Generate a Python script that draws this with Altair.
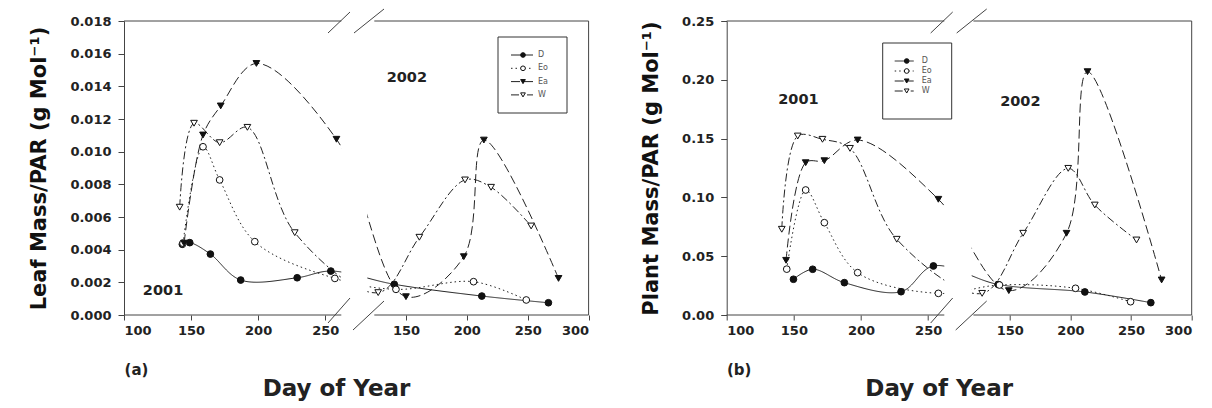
import altair as alt
import pandas as pd

FONT = "DejaVu Sans"
SERIES = ["D", "Eo", "Ea", "W"]

# ---------------- Panel (a): Leaf Mass/PAR ----------------
A01_D_DAY = [143.5, 149.0, 164.4, 187.0, 229.1, 254.2]
A01_D_VAL = [0.00433, 0.00443, 0.00373, 0.00214, 0.00228, 0.00269]
A01_EO_DAY = [144.0, 158.9, 171.3, 197.5, 257.2]
A01_EO_VAL = [0.0044, 0.0103, 0.00827, 0.00449, 0.00224]
A01_EA_DAY = [144.8, 158.9, 172.1, 198.7, 258.4]
A01_EA_VAL = [0.0044, 0.01102, 0.0128, 0.0154, 0.01076]
A01_W_DAY = [141.5, 152.2, 171.3, 192.0, 227.3]
A01_W_VAL = [0.0066, 0.01174, 0.01055, 0.01149, 0.00504]

A02_D_DAY = [140.4, 212.3, 267.0]
A02_D_VAL = [0.00188, 0.00116, 0.00075]
A02_EO_DAY = [141.8, 205.5, 248.8]
A02_EO_VAL = [0.00157, 0.00204, 0.00092]
A02_EA_DAY = [150.0, 197.5, 214.0, 275.3]
A02_EA_VAL = [0.00112, 0.00357, 0.01071, 0.00224]
A02_W_DAY = [127.2, 161.0, 198.5, 219.9, 252.8]
A02_W_VAL = [0.00137, 0.00476, 0.00827, 0.00782, 0.00545]

# ---------------- Panel (b): Plant Mass/PAR ----------------
B01_D_DAY = [149.7, 164.0, 187.6, 229.8, 253.9]
B01_D_VAL = [0.0304, 0.0389, 0.0275, 0.0198, 0.0417]
B01_EO_DAY = [144.7, 158.8, 172.7, 197.5, 257.6]
B01_EO_VAL = [0.039, 0.1063, 0.0785, 0.036, 0.0184]
B01_EA_DAY = [144.2, 158.8, 172.7, 197.5, 257.6]
B01_EA_VAL = [0.0465, 0.1295, 0.1312, 0.1488, 0.0984]
B01_W_DAY = [141.0, 152.9, 171.3, 191.8, 226.6]
B01_W_VAL = [0.0729, 0.1522, 0.1494, 0.1417, 0.0644]

B02_D_DAY = [140.4, 211.9, 266.3]
B02_D_VAL = [0.026, 0.0196, 0.0105]
B02_EO_DAY = [141.5, 204.2, 249.6]
B02_EO_VAL = [0.0255, 0.0227, 0.0113]
B02_EA_DAY = [149.2, 196.8, 214.1, 275.2]
B02_EA_VAL = [0.0207, 0.0695, 0.2069, 0.0298]
B02_W_DAY = [127.2, 161.0, 198.2, 220.1, 254.5]
B02_W_VAL = [0.0184, 0.0695, 0.1247, 0.0935, 0.0638]

YEAR_SHIFT = 365  # 2002 days are placed after 2001 on a broken axis
X_TICKS_2001 = [100, 150, 200, 250]
X_TICKS_2002 = [150, 200, 250, 300]

A_Y_TICKS = [0.000, 0.002, 0.004, 0.006, 0.008, 0.010, 0.012, 0.014, 0.016, 0.018]
B_Y_TICKS = [0.00, 0.05, 0.10, 0.15, 0.20, 0.25]

A_YEAR_LABELS = ["2001", "2002"]
A_YEAR_DAYS = [129.1, 515.7]
A_YEAR_VALS = [0.00148, 0.01454]
B_YEAR_DAYS = [153.4, 523.7]
B_YEAR_VALS = [0.1831, 0.181]

# styles
DASHES = [[1, 0], [1.5, 3], [9, 4], [8, 3, 2, 3]]
SHAPES = ["circle", "circle", "triangle-down", "triangle-down"]
FILLS = ["#111111", "#ffffff", "#111111", "#ffffff"]
INK = "#222222"
FRAME = "#444444"


def table(groups):
    rows = []
    for shift, s, days, vals in groups:
        for d, v in zip(days, vals):
            rows.append({"series": s, "day": d + shift, "value": v})
    return pd.DataFrame(rows)


def panel(df, xdom, xrng, mask, ymax, yticks, yfmt, ytitle, width,
          year_days, year_vals, legend, tag):
    height = 294
    XS = alt.Scale(domain=xdom, range=xrng, nice=False, zero=False)
    YS = alt.Scale(domain=[0, ymax], nice=False, zero=False)
    xvals = X_TICKS_2001 + [t + YEAR_SHIFT for t in X_TICKS_2002]
    xaxis = alt.Axis(values=xvals, domain=False, grid=False, tickSize=5,
                     labelExpr="datum.value > 300 ? datum.value - 365 : datum.value",
                     labelPadding=4, title="")
    yaxis = alt.Axis(values=yticks, format=yfmt, grid=False, tickSize=6,
                     labelPadding=7, title=ytitle, titlePadding=20)

    def X(f):
        return alt.X(f, scale=XS, axis=xaxis)

    def Y(f):
        return alt.Y(f, scale=YS, axis=yaxis)

    base = alt.Chart(df)
    lines = base.mark_line(interpolate="catmull-rom", strokeWidth=1, color=INK).encode(
        x=X("day:Q"), y=Y("value:Q"),
        detail="series:N",
        strokeDash=alt.StrokeDash("series:N", scale=alt.Scale(domain=SERIES, range=DASHES), legend=None),
    )
    mask_df = pd.DataFrame({"x0": [mask[0]], "x1": [mask[1]]})
    mask_layer = alt.Chart(mask_df).mark_rect(color="white").encode(
        x=X("x0:Q"), x2="x1:Q",
        y=alt.value(-1), y2=alt.value(height + 1),
    )
    frame_df = pd.DataFrame({
        "x": [xdom[0], xdom[2], xdom[0], xdom[2], xdom[3]],
        "x2": [xdom[1], xdom[3], xdom[1], xdom[3], xdom[3]],
        "y": [0, 0, ymax, ymax, 0],
        "y2": [0, 0, ymax, ymax, ymax],
    })
    frame = alt.Chart(frame_df).mark_rule(color=FRAME, strokeWidth=1).encode(
        x=X("x:Q"), x2="x2:Q", y=Y("y:Q"), y2="y2:Q",
    )
    points = base.mark_point(filled=True, size=45, stroke="#111111", strokeWidth=1, opacity=1).encode(
        x=X("day:Q"), y=Y("value:Q"),
        shape=alt.Shape("series:N", scale=alt.Scale(domain=SERIES, range=SHAPES), legend=None),
        fill=alt.Fill("series:N", scale=alt.Scale(domain=SERIES, range=FILLS), legend=None),
    )
    yl_df = pd.DataFrame({"label": A_YEAR_LABELS, "day": year_days, "value": year_vals})
    year_text = alt.Chart(yl_df).mark_text(font=FONT, fontWeight="bold", fontSize=14.5, color=INK).encode(
        x=X("day:Q"), y=Y("value:Q"), text="label:N",
    )
    one = pd.DataFrame({"k": [0]})
    # break marks (decoration)
    brk = []
    for (x0, y0, x1, y1) in [(204, 12, 226, -9), (230, 12, 260, -12),
                             (204, 302, 226, 277), (229, 309, 260, 280)]:
        brk.append(alt.Chart(one).mark_rule(color=FRAME, strokeWidth=1).encode(
            x=alt.value(x0), y=alt.value(y0), x2=alt.value(x1), y2=alt.value(y1)))
    # legend box (decoration)
    bx0, by0, bx1, by1, lx0, lx1, lm, lt, ly0, ldy = legend
    leg = [alt.Chart(one).mark_rect(fill="white", stroke="#333333", strokeWidth=1).encode(
        x=alt.value(bx0), x2=alt.value(bx1), y=alt.value(by0), y2=alt.value(by1))]
    for i, s in enumerate(SERIES):
        ly = ly0 + i * ldy
        leg.append(alt.Chart(one).mark_rule(color=INK, strokeWidth=1, strokeDash=DASHES[i]).encode(
            x=alt.value(lx0), x2=alt.value(lx1), y=alt.value(ly)))
        leg.append(alt.Chart(one).mark_point(filled=True, shape=SHAPES[i], fill=FILLS[i],
                                             stroke="#111111", strokeWidth=1, size=22, opacity=1).encode(
            x=alt.value(lm), y=alt.value(ly)))
        leg.append(alt.Chart(one).mark_text(text=s, font=FONT, fontSize=8, color="#555555",
                                            align="left", baseline="middle").encode(
            x=alt.value(lt), y=alt.value(ly)))
    tag_layer = alt.Chart(one).mark_text(text=tag, font=FONT, fontWeight="bold", fontSize=15,
                                         color=INK, align="center", baseline="middle").encode(
        x=alt.value(12.5), y=alt.value(349))
    xtitle = alt.Chart(one).mark_text(text="Day of Year", font=FONT, fontWeight="bold", fontSize=23,
                                      color=INK, align="center", baseline="alphabetic").encode(
        x=alt.value(212.5), y=alt.value(375))
    return alt.layer(lines, mask_layer, frame, points, year_text, *brk, *leg, tag_layer, xtitle).properties(
        width=width, height=height)


dfA = table([(0, "D", A01_D_DAY, A01_D_VAL), (0, "Eo", A01_EO_DAY, A01_EO_VAL),
             (0, "Ea", A01_EA_DAY, A01_EA_VAL), (0, "W", A01_W_DAY, A01_W_VAL),
             (YEAR_SHIFT, "D", A02_D_DAY, A02_D_VAL), (YEAR_SHIFT, "Eo", A02_EO_DAY, A02_EO_VAL),
             (YEAR_SHIFT, "Ea", A02_EA_DAY, A02_EA_VAL), (YEAR_SHIFT, "W", A02_W_DAY, A02_W_VAL)])
dfB = table([(0, "D", B01_D_DAY, B01_D_VAL), (0, "Eo", B01_EO_DAY, B01_EO_VAL),
             (0, "Ea", B01_EA_DAY, B01_EA_VAL), (0, "W", B01_W_DAY, B01_W_VAL),
             (YEAR_SHIFT, "D", B02_D_DAY, B02_D_VAL), (YEAR_SHIFT, "Eo", B02_EO_DAY, B02_EO_VAL),
             (YEAR_SHIFT, "Ea", B02_EA_DAY, B02_EA_VAL), (YEAR_SHIFT, "W", B02_W_DAY, B02_W_VAL)])

chartA = panel(dfA, [100, 262, 489, 665], [0, 217.3, 250.3, 464.6], [262, 441],
               0.018, A_Y_TICKS, ".3f", "Leaf Mass/PAR (g Mol\u207b\u00b9)", 464.6,
               A_YEAR_DAYS, A_YEAR_VALS,
               (374, 16, 443, 92, 387, 409, 399, 414, 34, 13.3), "(a)")
chartB = panel(dfB, [100, 262, 485, 665], [0, 217.6, 246.7, 465], [262, 472],
               0.25, B_Y_TICKS, ".2f", "Plant Mass/PAR (g Mol\u207b\u00b9)", 465,
               B_YEAR_DAYS, B_YEAR_VALS,
               (156, 22, 225, 98, 168, 187, 180, 195, 40, 10), "(b)")

chart = alt.hconcat(chartA, chartB, spacing=137.7, bounds="flush").properties(
    padding={"left": 20, "top": 0, "right": 5, "bottom": 0}
).configure_view(stroke=None).configure_axis(
    labelFont=FONT, labelFontWeight="bold", labelFontSize=13, labelColor=INK,
    titleFont=FONT, titleFontWeight="bold", titleFontSize=21, titleColor="#111111",
    domainColor=FRAME, tickColor=FRAME,
)

chart.save("out.html", embed_options={"renderer": "svg", "actions": False})
